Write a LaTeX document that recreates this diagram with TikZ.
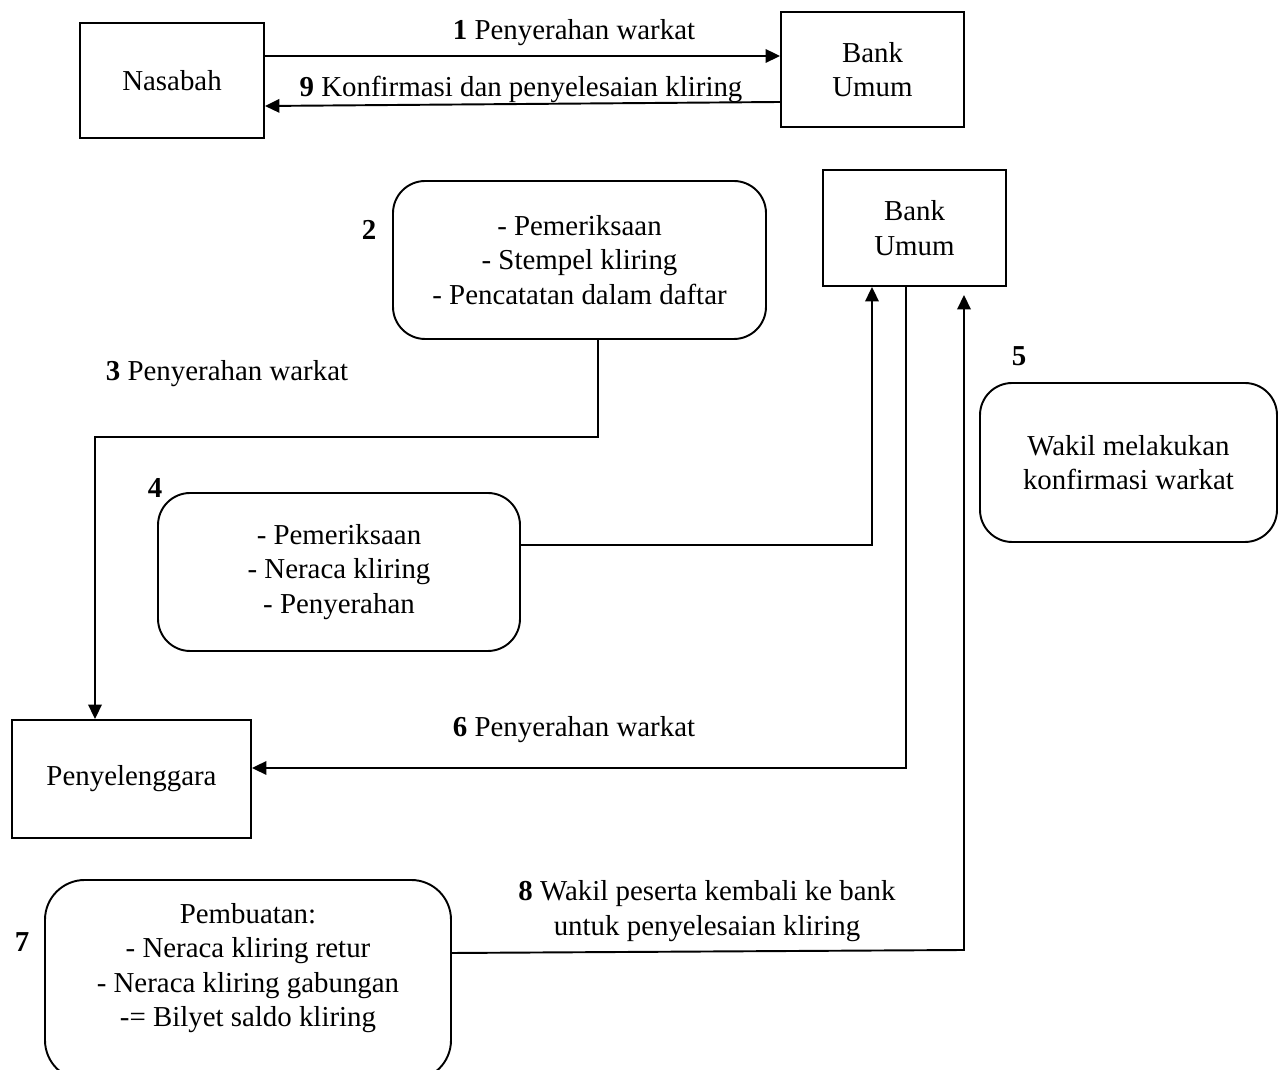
\documentclass[tikz,border=0pt,12pt]{standalone}
\usepackage{fontspec}
\setmainfont{Liberation Serif}
\usetikzlibrary{shapes,arrows.meta,positioning}
\newcommand{\unitpx}{0.0146cm}
\tikzstyle{entity} = [rectangle, draw=black, line width=0.8pt, align=center]
\tikzstyle{process} = [rectangle, rounded corners=0.47cm, draw=black, line width=0.8pt, align=center]
\tikzstyle{arrow} = [line width=0.8pt,-{Triangle[length=6pt,width=5.6pt]}]
\tikzstyle{numlabel} = [font=\bfseries]

\begin{document}
\begin{tikzpicture}[x=\unitpx, y=-\unitpx, font=\fontsize{12}{14.3}\selectfont]
  \clip (0,0) rectangle (1279,1070);

  \node[entity, minimum width=184*\unitpx, minimum height=115*\unitpx] (nasabah) at (172,80.5) {Nasabah};
  \node[entity, minimum width=183*\unitpx, minimum height=115*\unitpx] (bankA) at (872.5,69.5) {Bank\\Umum};
  \node[process, minimum width=373*\unitpx, minimum height=158*\unitpx] (proc2) at (579.5,260)
      {- Pemeriksaan\\- Stempel kliring\\- Pencatatan dalam daftar};
  \node[entity, minimum width=183*\unitpx, minimum height=116*\unitpx] (bankB) at (914.5,228) {Bank\\Umum};
  \node[process, minimum width=362*\unitpx, minimum height=158*\unitpx] (proc4) at (339,572)
      {- Pemeriksaan\\- Neraca kliring\\- Penyerahan};
  \node[process, minimum width=297*\unitpx, minimum height=159*\unitpx] (proc5) at (1128.5,462.5)
      {Wakil melakukan\\konfirmasi warkat};
  \node[entity, minimum width=239*\unitpx, minimum height=118*\unitpx] (penyel) at (131.5,779) {Penyelenggara};
  \node[process, rounded corners=0.58cm, minimum width=406*\unitpx, minimum height=200*\unitpx] (proc7) at (248,980) {};
  \node[align=center] (proc7text) at (248,968)
      {Pembuatan:\\- Neraca kliring retur\\- Neraca kliring gabungan\\-= Bilyet saldo kliring};

  \node[numlabel] (n2) at (369,230) {2};
  \node[numlabel] (n4) at (155,488) {4};
  \node[numlabel] (n5) at (1019,356) {5};
  \node[numlabel] (n7) at (22,942) {7};

  \node (lab1) at (574,33) {\textbf{1} Penyerahan warkat};
  \node (lab9) at (521,89) {\textbf{9} Konfirmasi dan penyelesaian kliring};
  \node (lab3) at (227,374) {\textbf{3} Penyerahan warkat};
  \node (lab6) at (574,730) {\textbf{6} Penyerahan warkat};
  \node[align=center] (lab8) at (707,911) {\textbf{8} Wakil peserta kembali ke bank\\untuk penyelesaian kliring};

  \coordinate (ret8) at (964,295);

  \draw[arrow] (nasabah.east |- 0,56) -- (bankA.west |- 0,56);
  \draw[arrow] (bankA.west |- 0,102) -- (nasabah.east |- 0,106);
  \draw[arrow] (proc2.south -| 598,0) |- (95,437) -- (penyel.north -| 95,0);
  \draw[arrow] (proc4.east |- 0,545) -| (bankB.south -| 872,0);
  \draw[arrow] (bankB.south -| 906,0) |- (penyel.east |- 0,768);
  \draw[arrow] (proc7.east |- 0,953) -- (ret8 |- 0,950) -- (ret8);
\end{tikzpicture}
\end{document}
